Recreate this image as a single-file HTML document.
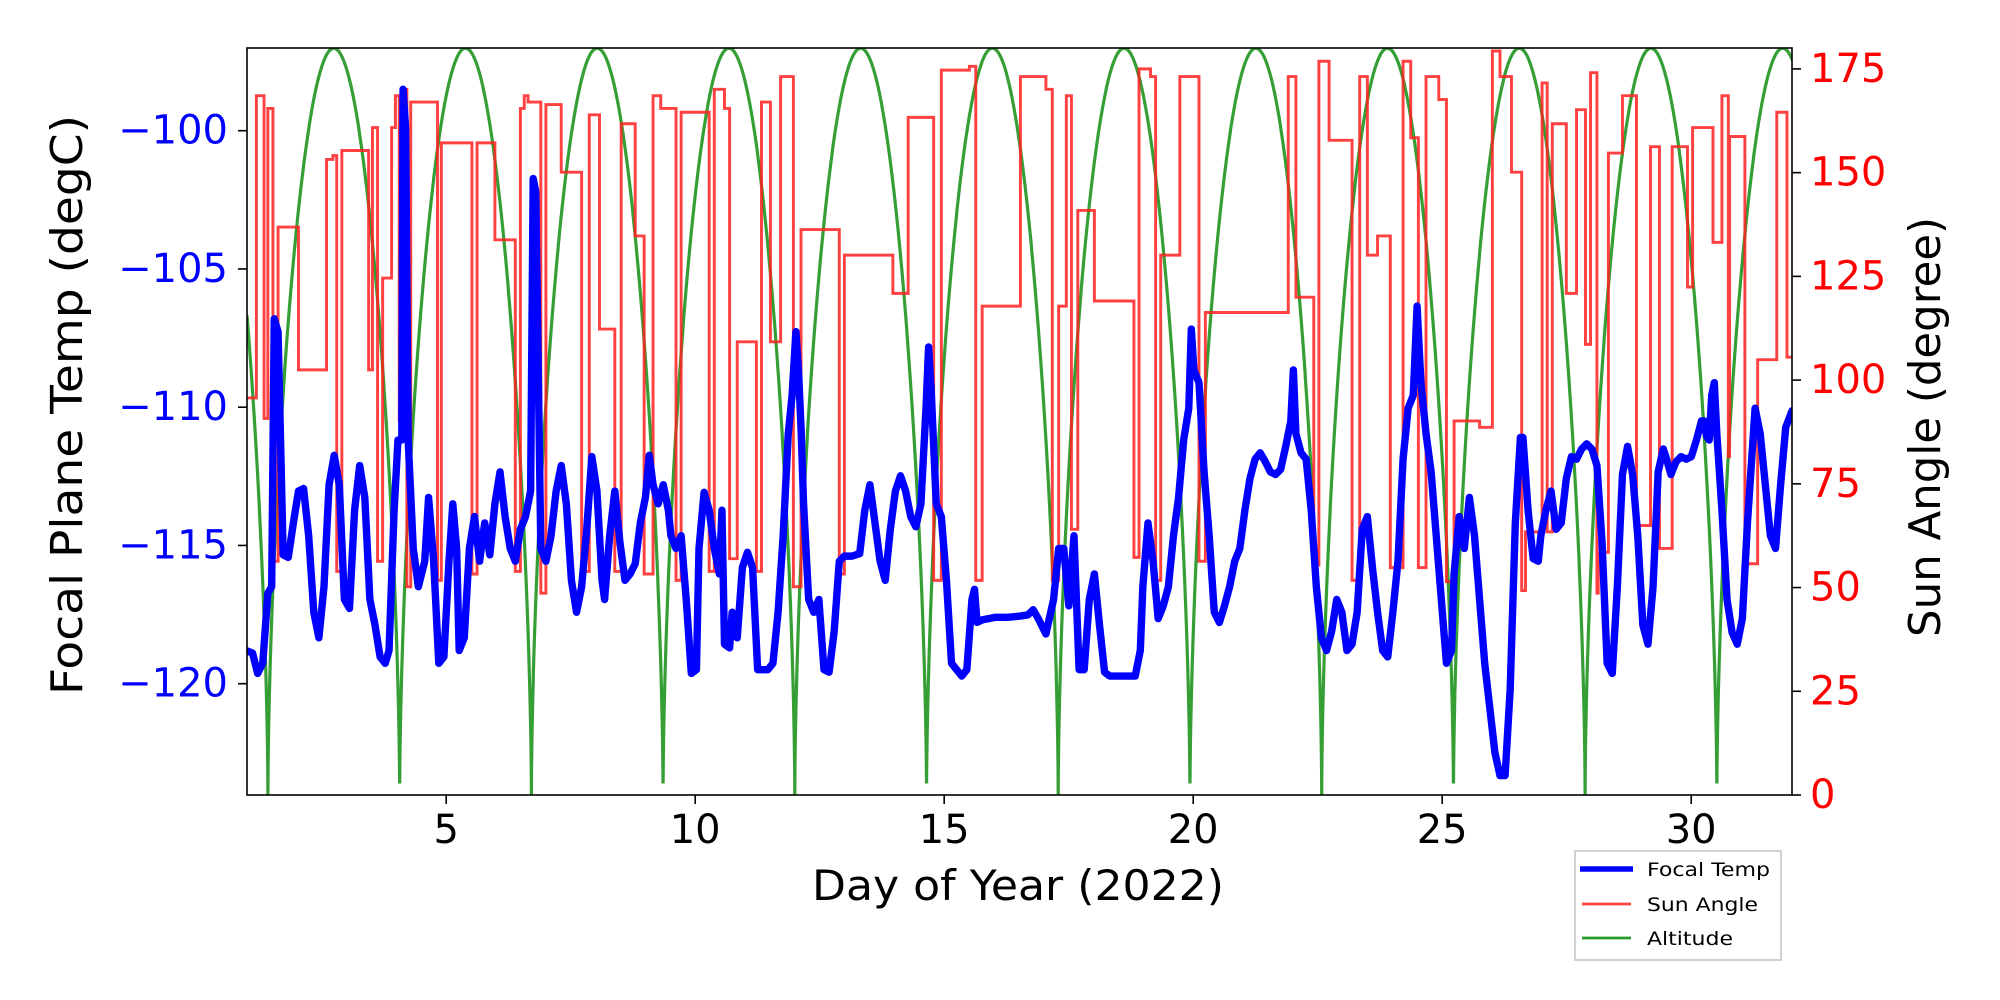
<!DOCTYPE html>
<html><head><meta charset="utf-8"><style>
html,body{margin:0;padding:0;background:#fff;width:2000px;height:1000px;overflow:hidden}
svg{display:block}
text{font-family:"DejaVu Sans","Liberation Sans",sans-serif}
</style></head><body>
<svg id="s" width="2000" height="1000" viewBox="0 0 2000 1000" xmlns="http://www.w3.org/2000/svg">
<rect width="2000" height="1000" fill="#fff"/>
<defs><clipPath id="c"><rect x="247" y="48" width="1545" height="747"/></clipPath></defs>
<g clip-path="url(#c)">
<path id="green" fill="none" stroke="#2a9a2a" stroke-width="3.2" stroke-opacity="0.95"/>
<g transform="scale(1.27551)">
<path id="red" fill="none" stroke="#ff2020" stroke-opacity="0.85" stroke-width="2.3" stroke-linejoin="miter"/>
<polyline id="blue" fill="none" stroke="#0000ff" stroke-width="5.8" stroke-linejoin="round" stroke-linecap="round"/>
</g>
</g>
<rect x="247" y="48" width="1545" height="747" fill="none" stroke="#000" stroke-width="1.6"/>
<g id="ticks" stroke="#000" stroke-width="1.6"></g>
<g id="labels"></g>
<text x="70" y="405" font-size="44" text-anchor="middle" textLength="580" lengthAdjust="spacingAndGlyphs" transform="rotate(-90 70 405)" dominant-baseline="middle">Focal Plane Temp (degC)</text>
<text x="1018" y="900" font-size="42" text-anchor="middle" textLength="412" lengthAdjust="spacingAndGlyphs">Day of Year (2022)</text>
<text x="1928" y="427" font-size="44" text-anchor="middle" textLength="420" lengthAdjust="spacingAndGlyphs" transform="rotate(-90 1928 427)" dominant-baseline="middle">Sun Angle (degree)</text>
<rect x="1575" y="851" width="206" height="109" fill="#fff" stroke="#d0d0d0" stroke-width="2"/>
<line x1="1580" y1="869" x2="1633" y2="869" stroke="#0000ff" stroke-width="5.5"/>
<line x1="1582" y1="904" x2="1631" y2="904" stroke="#ff2020" stroke-opacity="0.85" stroke-width="2.8"/>
<line x1="1582" y1="938" x2="1631" y2="938" stroke="#2a9a2a" stroke-width="2.8"/>
<text x="1647" y="876" font-size="19" textLength="123" lengthAdjust="spacingAndGlyphs">Focal Temp</text>
<text x="1647" y="911" font-size="19" textLength="111" lengthAdjust="spacingAndGlyphs">Sun Angle</text>
<text x="1647" y="945" font-size="19" textLength="86" lengthAdjust="spacingAndGlyphs">Altitude</text>
</svg>
<script>
var NS="http://www.w3.org/2000/svg";
function X(d){return 247+(d-1)*49.8;}
var g="",t0=1.42,P=2.645;
for(var t=1;t<=32.1;t+=0.002){var v=180*Math.pow(Math.abs(Math.sin(Math.PI*(t-t0)/P)),0.6);g+=(g?"L":"M")+X(t).toFixed(1)+" "+(795-v*4.149).toFixed(1);}
document.getElementById("green").setAttribute("d",g);
var R=[[193,312],[201,75],[207,328],[210,85],[214,440],[218,178],[234,290],[256,125],[261,122],[264,448],[268,118],[289,290],[292,100],[296,440],[300,218],[307,100],[310,75],[313,330],[316,70],[319,460],[322,80],[343,455],[346,112],[370,450],[374,112],[388,188],[404,448],[408,85],[411,75],[414,80],[424,465],[428,82],[440,135],[456,448],[462,90],[470,258],[482,448],[487,97],[498,185],[505,450],[512,75],[518,85],[530,455],[534,88],[556,448],[560,70],[568,85],[572,438],[578,268],[593,448],[597,80],[604,268],[612,60],[618,60],[622,460],[628,180],[658,450],[662,200],[686,200],[700,230],[712,92],[732,455],[738,55],[760,52],[765,455],[770,240],[800,60],[820,70],[825,455],[830,240],[836,75],[840,415],[845,165],[858,236],[863,236],[889,437],[893,54],[902,60],[906,455],[910,200],[925,60],[940,440],[945,245],[1010,60],[1016,233],[1030,443],[1034,48],[1042,110],[1055,110],[1060,455],[1066,60],[1072,200],[1080,185],[1090,445],[1100,48],[1106,108],[1112,445],[1118,60],[1128,78],[1134,456],[1140,330],[1160,335],[1170,40],[1176,60],[1185,135],[1193,463],[1196,417],[1209,65],[1213,417],[1217,97],[1228,230],[1236,86],[1243,270],[1247,57],[1252,465],[1253,433],[1261,120],[1272,75],[1283,412],[1294,115],[1301,430],[1311,115],[1323,225],[1327,100],[1343,190],[1350,75],[1355,358],[1356,107],[1368,442],[1378,282],[1393,88],[1401,280],[1412,280]];
var r="M"+R[0][0]+" "+R[0][1];
for(var i=1;i<R.length;i++){r+="H"+R[i][0]+"V"+R[i][1];}
document.getElementById("red").setAttribute("d",r);
var B=[193,510,198,512,202,528,206,520,210,465,213,460,215,250,218,260,222,435,226,437,230,410,234,385,238,383,242,420,246,480,250,500,254,460,258,380,262,357,266,380,270,470,274,477,278,400,282,365,286,390,290,470,294,490,298,515,302,520,305,510,309,400,312,345,315,345,316,70,318,100,320,345,324,430,328,460,333,440,336,390,340,440,344,520,348,515,352,440,355,395,358,430,360,510,364,500,368,430,372,405,376,440,380,410,384,435,388,395,392,370,396,405,400,430,404,440,408,415,412,405,416,385,418,140,420,150,424,430,428,440,432,420,436,385,440,365,444,395,448,455,452,480,456,460,460,415,464,358,468,385,472,455,474,470,478,420,482,385,486,425,490,455,494,450,498,442,502,410,506,390,509,357,512,380,516,395,520,380,524,400,526,420,530,430,534,420,538,470,542,528,546,525,548,430,552,386,556,400,560,430,564,450,566,400,568,505,572,508,574,480,578,500,582,445,586,433,590,445,594,525,598,525,602,525,606,520,610,480,614,420,618,340,621,310,624,260,626,290,628,335,630,395,634,470,638,480,642,470,646,525,650,527,654,495,658,440,662,436,668,436,674,434,678,400,682,380,686,410,690,440,694,455,698,415,702,385,706,373,710,385,714,405,718,413,722,395,726,320,728,272,730,305,734,395,738,405,742,455,746,520,750,525,754,530,758,525,762,470,764,462,766,488,770,486,780,484,790,484,800,483,806,482,810,478,814,485,820,497,826,470,830,430,834,430,838,475,842,420,846,525,850,525,854,470,858,450,862,490,866,527,870,530,880,530,890,530,894,510,896,460,900,410,904,440,908,485,912,475,916,460,920,420,924,390,928,345,932,320,934,258,936,290,940,300,944,370,948,420,952,480,956,488,960,475,964,460,968,440,972,430,976,400,980,375,984,360,988,355,992,362,996,370,1000,372,1004,368,1008,350,1012,330,1014,290,1016,340,1020,355,1024,360,1028,400,1032,460,1036,500,1040,510,1044,495,1048,470,1052,480,1056,510,1060,505,1064,480,1068,415,1072,405,1076,445,1080,480,1084,510,1088,515,1092,480,1096,440,1100,360,1104,320,1108,310,1111,240,1114,300,1118,340,1122,370,1126,420,1130,470,1134,520,1138,510,1140,450,1144,405,1148,430,1152,390,1156,420,1160,470,1164,520,1168,555,1172,590,1176,608,1180,608,1184,540,1188,410,1192,343,1194,343,1198,400,1202,438,1206,440,1208,420,1212,400,1216,385,1220,415,1224,410,1228,375,1232,358,1236,360,1240,352,1244,348,1248,352,1252,365,1256,425,1260,520,1264,528,1268,460,1272,372,1276,350,1280,372,1284,420,1288,490,1292,505,1296,460,1300,370,1304,352,1306,358,1310,372,1314,362,1318,358,1322,360,1326,358,1330,345,1334,330,1336,330,1338,342,1340,345,1342,310,1344,300,1346,340,1350,400,1354,470,1358,496,1362,505,1366,485,1370,410,1376,320,1380,340,1384,380,1388,420,1392,430,1396,380,1400,335,1405,322,1410,320];
document.getElementById("blue").setAttribute("points",B.join(" "));
var T=document.getElementById("ticks"),L=document.getElementById("labels");
function line(x1,y1,x2,y2){var e=document.createElementNS(NS,"line");e.setAttribute("x1",x1);e.setAttribute("y1",y1);e.setAttribute("x2",x2);e.setAttribute("y2",y2);T.appendChild(e);}
function txt(x,y,s,fill,anchor){var e=document.createElementNS(NS,"text");e.setAttribute("x",x);e.setAttribute("y",y);e.setAttribute("font-size","40");e.setAttribute("fill",fill);e.setAttribute("text-anchor",anchor);e.setAttribute("dominant-baseline","middle");e.textContent=s;L.appendChild(e);}
[-100,-105,-110,-115,-120].forEach(function(v){var y=130.7-(v+100)*27.65;line(238,y,247,y);txt(228,y+2,"\u2212"+(-v),"#0000ff","end");});
[0,25,50,75,100,125,150,175].forEach(function(d){var y=795-d*4.149;line(1792,y,1801,y);txt(1810,y+2,""+d,"#ff0000","start");});
[5,10,15,20,25,30].forEach(function(d){var x=X(d);line(x,795,x,804);txt(x,832,""+d,"#000","middle");});
</script>
</body></html>
